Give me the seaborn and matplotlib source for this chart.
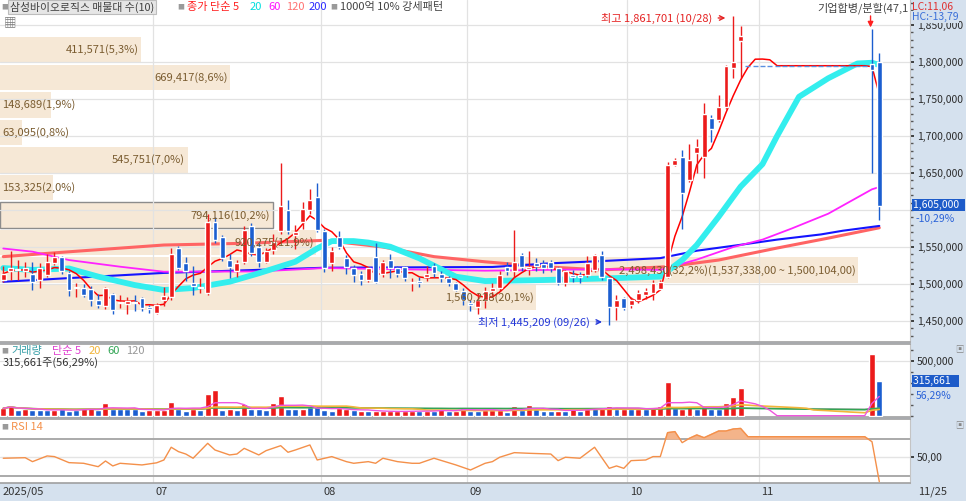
import numpy as np
import pandas as pd
import matplotlib
matplotlib.use("Agg")
import matplotlib.pyplot as plt
from matplotlib.ticker import MultipleLocator, FixedLocator, FuncFormatter
from matplotlib.transforms import blended_transform_factory
import seaborn as sns

sns.set_theme(style="white")
plt.rcParams["font.family"] = ["Noto Sans CJK KR", "DejaVu Sans"]
plt.rcParams["axes.unicode_minus"] = False

# 삼성바이오로직스 일봉 2025/05/29 ~ 2025/11/25 (가격 단위: 천원)
opens = [1505, 1518, 1519, 1518, 1514, 1505, 1512, 1529, 1536, 1515,
         1494, 1494, 1493, 1479, 1470, 1487, 1474, 1473, 1476, 1481,
         1469, 1461, 1478, 1483, 1548, 1528, 1502, 1494, 1488, 1584,
         1563, 1532, 1517, 1530, 1578, 1550, 1530, 1546, 1571, 1600,
         1566, 1584, 1600, 1618, 1571, 1528, 1564, 1535, 1521, 1514,
         1505, 1537, 1514, 1532, 1521, 1523, 1501, 1504, 1509, 1524,
         1514, 1508, 1501, 1491, 1474, 1469, 1478, 1491, 1494, 1523,
         1517, 1539, 1520, 1528, 1527, 1530, 1521, 1501, 1512, 1512,
         1512, 1519, 1539, 1508, 1469, 1481, 1472, 1479, 1485, 1488,
         1493, 1510, 1661, 1671, 1641, 1677, 1671, 1725, 1722, 1739,
         1792, 1828,
         1795, 1795, 1795, 1795, 1795, 1795, 1795, 1795, 1795, 1795,
         1795, 1795, 1795, 1795, 1795, 1795, 1795,
         1797, 1800]
highs = [1525, 1544, 1532, 1530, 1530, 1528, 1541, 1543, 1538, 1518,
         1502, 1500, 1497, 1486, 1496, 1488, 1485, 1483, 1485, 1482,
         1472, 1475, 1496, 1548, 1552, 1536, 1525, 1508, 1594, 1591,
         1566, 1540, 1532, 1579, 1583, 1555, 1548, 1568, 1663, 1613,
         1580, 1611, 1629, 1637, 1574, 1550, 1571, 1539, 1526, 1518,
         1523, 1555, 1532, 1540, 1524, 1524, 1508, 1510, 1525, 1528,
         1517, 1511, 1503, 1495, 1479, 1488, 1496, 1501, 1517, 1530,
         1573, 1542, 1544, 1535, 1533, 1532, 1523, 1519, 1519, 1516,
         1538, 1541, 1544, 1510, 1485, 1483, 1482, 1492, 1494, 1506,
         1505, 1665, 1670, 1681, 1689, 1696, 1744, 1728, 1755, 1796,
         1861.701, 1849,
         1795, 1795, 1795, 1795, 1795, 1795, 1795, 1795, 1795, 1795,
         1795, 1795, 1795, 1795, 1795, 1795, 1795,
         1845, 1812]
lows = [1503, 1506, 1505, 1510, 1492, 1494, 1509, 1526, 1513, 1484,
        1483, 1482, 1470, 1468, 1466, 1459, 1467, 1459, 1463, 1464,
        1461, 1459, 1470, 1478, 1519, 1504, 1485, 1488, 1485, 1556,
        1531, 1508, 1509, 1527, 1538, 1523, 1528, 1540, 1568, 1567,
        1547, 1575, 1595, 1570, 1516, 1517, 1547, 1513, 1503, 1499,
        1503, 1501, 1510, 1508, 1509, 1504, 1490, 1496, 1504, 1510,
        1503, 1497, 1490, 1472, 1464, 1460, 1467, 1483, 1491, 1512,
        1510, 1517, 1512, 1518, 1515, 1516, 1499, 1497, 1503, 1501,
        1510, 1516, 1505, 1445.209, 1451, 1465, 1467, 1475, 1480, 1478,
        1492, 1508, 1659, 1575, 1638, 1650, 1643, 1692, 1719, 1736,
        1778, 1778,
        1795, 1795, 1795, 1795, 1795, 1795, 1795, 1795, 1795, 1795,
        1795, 1795, 1795, 1795, 1795, 1795, 1795,
        1650, 1586]
closes = [1514, 1522, 1520, 1521, 1503, 1521, 1530, 1536, 1517, 1492,
          1495, 1485, 1478, 1472, 1494, 1465, 1476, 1477, 1474, 1467,
          1466, 1472, 1484, 1541, 1521, 1517, 1497, 1496, 1584, 1560,
          1535, 1523, 1528, 1573, 1542, 1530, 1544, 1557, 1605, 1571,
          1570, 1601, 1614, 1573, 1521, 1544, 1550, 1523, 1512, 1505,
          1521, 1503, 1530, 1521, 1514, 1508, 1503, 1502, 1514, 1515,
          1508, 1501, 1492, 1478, 1472, 1478, 1490, 1494, 1512, 1517,
          1530, 1523, 1523, 1524, 1522, 1521, 1501, 1517, 1510, 1510,
          1528, 1539, 1510, 1469, 1478, 1467, 1478, 1488, 1490, 1501,
          1503, 1661, 1668, 1623, 1668, 1685, 1730, 1710, 1739, 1794,
          1800, 1835,
          1795, 1795, 1795, 1795, 1795, 1795, 1795, 1795, 1795, 1795,
          1795, 1795, 1795, 1795, 1795, 1795, 1795,
          1789, 1605]

# 거래량 (주) 와 막대 색 (r: 빨강, b: 파랑, -: 거래정지)
volumes = [67000, 91000, 52000, 58000, 52000, 52000, 52000, 52000, 58000, 45000,
           52000, 67000, 67000, 52000, 112000, 61000, 61000, 61000, 61000, 45000,
           52000, 52000, 52000, 127000, 61000, 45000, 61000, 52000, 194000, 233000,
           52000, 61000, 52000, 103000, 61000, 61000, 52000, 118000, 182000, 61000,
           61000, 61000, 82000, 82000, 52000, 45000, 67000, 58000, 52000, 45000,
           39000, 39000, 39000, 39000, 39000, 39000, 45000, 45000, 39000, 45000,
           58000, 45000, 45000, 82000, 45000, 45000, 52000, 52000, 52000, 36000,
           88000, 52000, 97000, 58000, 45000, 45000, 45000, 45000, 67000, 45000,
           67000, 67000, 67000, 91000, 64000, 64000, 64000, 64000, 64000, 67000,
           91000, 303000, 67000, 64000, 91000, 64000, 91000, 64000, 64000, 118000,
           173000, 249000,
           0, 0, 0, 0, 0, 0, 0, 0, 0, 0, 0, 0, 0, 0, 0, 0, 0,
           560777, 315661]
vol_colors = ("rrbrbbbrbb" "brrbrbbbbb" "rrrrbbrbrr" "brbrbbbrrb" "brbbbbrrbr"
              "brrrrrrbrb" "rbrrbbrrrb" "rbrbbbrbrb" "rbrrbrbrbr" "rrbrrbrbbr"
              "rr" "-----------------" "rb")

# 이동평균
ma20_idx = [0, 4, 9, 13, 18, 22, 26, 31, 35, 40, 43, 45, 48, 50, 53, 57, 62, 66,
            74, 83, 90, 93, 95, 98, 101, 104, 106, 109, 113, 117, 119, 120]
ma20_val = [1521600, 1519000, 1521000, 1510000, 1498600, 1491900, 1494600, 1503100,
            1514500, 1530100, 1548000, 1558000, 1558000, 1556000, 1550400, 1534700,
            1509900, 1504000, 1505400, 1507700, 1510000, 1532400, 1552700, 1591000,
            1631500, 1662000, 1700000, 1753000, 1778000, 1798000, 1799000, 1796000]
ma60_idx = [0, 4, 9, 16, 22, 35, 44, 66, 74, 82, 90, 95, 100, 104, 108, 113, 119, 120]
ma60_val = [1548000, 1543700, 1532400, 1523400, 1516600, 1517000, 1521600, 1518000,
            1519000, 1520000, 1519000, 1533000, 1550000, 1560000, 1575000, 1595000,
            1628000, 1631000]
ma120_idx = [0, 11, 22, 33, 44, 52, 59, 66, 74, 82, 91, 98, 106, 113, 120]
ma120_val = [1537000, 1545000, 1552700, 1555000, 1559000, 1550000, 1537000, 1530000,
             1523400, 1519000, 1523400, 1532400, 1548600, 1562000, 1576000]
ma200_idx = [0, 9, 22, 44, 67, 75, 82, 90, 95, 101, 106, 112, 115, 120]
ma200_val = [1503000, 1508000, 1515000, 1522000, 1523000, 1528000, 1531000, 1535000,
             1545000, 1553000, 1560000, 1567000, 1572000, 1578500]

# RSI 14
rsi_idx = [0, 3, 4, 6, 7, 9, 11, 13, 14, 15, 16, 19, 21, 22, 23, 24, 25, 26, 28, 29,
           31, 32, 33, 35, 36, 38, 39, 40, 42, 43, 45, 47, 48, 50, 51, 52, 54, 56, 57, 59,
           62, 64, 66, 67, 68, 70, 72, 75, 76, 77, 79, 81, 83, 84, 85, 86, 88, 89, 90, 91,
           92, 93, 94, 95, 96, 98, 99, 100, 101, 102, 118, 119, 120]
rsi_val = [49, 49.6, 45.3, 51.5, 50.8, 44.2, 43.5, 39.8, 46, 40.6, 43.5, 41.7, 44, 47.1,
           61, 56.2, 53.6, 49, 65.3, 58, 52.6, 53.6, 59.8, 52.6, 57.3, 62.7, 55.5, 58,
           63.5, 47.1, 50.8, 45.3, 43.5, 45.3, 43.5, 49, 45.3, 43.5, 43.5, 49, 41.7, 36.2,
           43.5, 45.3, 50.1, 55.1, 54.4, 53.6, 46.4, 50.1, 49, 61, 38, 40.6, 38, 46.4,
           47.1, 50.8, 50.8, 76.9, 78, 66, 70.8, 74.4, 71.4, 78.7, 78.7, 80.9, 81.5,
           72.5, 72.5, 67, 23.5]

# 매물대 (아래 구간부터)
prof_edges = [1462870, 1500104, 1537338, 1574572, 1611806, 1649040,
              1686274, 1723508, 1760742, 1797976, 1835210]
prof_vol = [1560228, 2498430, 920275, 794116, 153325, 545751, 63095, 148689, 669417, 411571]

# 월 첫 거래일 인덱스
month_first = [21, 44, 64, 86, 104]
month_labels = ["07", "08", "09", "10", "11"]

RED = "#ec1b1b"
BLUE = "#1b5ed0"
STRIP = "#d5e1ee"
GRID = "#e2e2e2"
BROWN = "#7a5c30"

o = np.array(opens) * 1000
h = np.array(highs) * 1000
l = np.array(lows) * 1000
c = np.array(closes) * 1000
v = np.array(volumes)
x = np.arange(len(c))
n = len(c)

W, H = 966, 501
PX = 7.3          # 봉 간격(px)
X0 = -0.45


def box(top, bottom, left=0, right=910):
    return [left / W, 1 - bottom / H, (right - left) / W, (bottom - top) / H]


def ftext(px, py, s, **kw):
    kw.setdefault("fontsize", 8)
    kw.setdefault("ha", "left")
    fig.text(px / W, 1 - py / H, s, va="center", **kw)


fig = plt.figure(figsize=(9.66, 5.01), dpi=100, facecolor=STRIP)
ax = fig.add_axes(box(0, 342))
axv = fig.add_axes(box(344, 417), sharex=ax)
axr = fig.add_axes(box(419, 483), sharex=ax)

for a in (ax, axv, axr):
    a.set_facecolor("white")
    a.spines["left"].set_visible(False)
    a.spines["right"].set_color("#c4c4c4")
    a.spines["right"].set_linewidth(0.8)
    a.spines["top"].set_color("#a0a0a0")
    a.spines["bottom"].set_color("#a0a0a0")
    a.spines["top"].set_linewidth(1.2)
    a.spines["bottom"].set_linewidth(1.2)
    a.yaxis.tick_right()
    a.tick_params(axis="y", which="major", length=3, pad=2, labelsize=7.5,
                  colors="#2b2b2b", right=True, left=False)
    a.tick_params(axis="y", which="minor", length=2, color="#555", right=True, left=False)
    a.tick_params(axis="x", bottom=False, labelbottom=False)
    for m in month_first:
        a.axvline(m - 0.5, color=GRID, lw=0.9, zorder=1)
ax.spines["top"].set_visible(False)

ax.set_xlim(X0, (910 - 3.3) / PX)

# ---------------- 가격 ----------------
ax.set_ylim(1883800 - 342 * 1351.35, 1883800)
grid_levels = list(range(1450000, 1900000, 50000))
for yv in grid_levels:
    ax.axhline(yv, color=GRID, lw=0.9, zorder=1)

# 매물대
edges = np.array(prof_edges)
pv = np.array(prof_vol)
centers = (edges[:-1] + edges[1:]) / 2
scale = 117.6 / pv.max()
widths = pv * scale
cur_band = np.searchsorted(edges, c[-1]) - 1
ecs = ["#8c8c8c" if i == cur_band else "none" for i in range(len(pv))]
ax.barh(centers, widths, height=np.diff(edges) - 2800, left=X0, color="#f6e8d6",
        edgecolor=ecs, linewidth=1.0, zorder=0.5)
total = pv.sum()
for i in range(len(pv)):
    pct = f"{pv[i] / total * 100:.1f}".replace(".", ",")
    lab = f"{pv[i]:,}({pct}%)"
    if i == pv.argmax():
        lab += f"({edges[i + 1]:,},00 ~ {edges[i]:,},00)"
    if widths[i] * PX > 100:
        ax.text(X0 + widths[i] - 0.35, centers[i], lab, ha="right", va="center",
                fontsize=8, color=BROWN, zorder=10)
    else:
        ax.text(X0 + 0.35, centers[i], lab, ha="left", va="center",
                fontsize=8, color=BROWN, zorder=10)

# 이동평균선
sns.lineplot(x=ma120_idx, y=ma120_val, ax=ax, color="#ff6464", linewidth=2.2, zorder=2)
sns.lineplot(x=ma200_idx, y=ma200_val, ax=ax, color="#1414ff", linewidth=1.5, zorder=2.1)
sns.lineplot(x=ma60_idx, y=ma60_val, ax=ax, color="#ff22ff", linewidth=1.3, zorder=2.2)
sns.lineplot(x=ma20_idx, y=ma20_val, ax=ax, color="#33eeee", linewidth=4.2, zorder=2.3)
ma5 = pd.Series(c).rolling(5, min_periods=1).mean()
sns.lineplot(x=x, y=ma5.values, ax=ax, color="#ff0000", linewidth=1.1, zorder=2.6)

# 캔들
traded = v > 0
up = c >= o
col = np.where(up, RED, BLUE)
ax.vlines(x[traded], l[traded], h[traded], colors=col[traded], lw=1, zorder=3)
body_lo = np.minimum(o, c)
body_h = np.maximum(np.abs(c - o), 1400)
ax.bar(x[traded], body_h[traded], bottom=body_lo[traded], width=0.68,
       color=col[traded], zorder=3.1)
ax.hlines(c[~traded], x[~traded] - 0.34, x[~traded] + 0.34, colors="#5b8fe0",
          lw=1, zorder=3)

# 최고 / 최저
hi_i, lo_i = int(np.argmax(h)), int(np.argmin(l))
ax.annotate(f"최고 {h[hi_i]:,.0f} (10/28)", xy=(hi_i - 0.7, 1859500),
            xytext=(hi_i - 2.9, 1859500), ha="right", va="center", fontsize=8,
            color="#e52222", zorder=11,
            arrowprops=dict(arrowstyle="->", color="#e52222", lw=1))
ax.annotate(f"최저 {l[lo_i]:,.0f} (09/26)", xy=(lo_i - 0.6, 1448700),
            xytext=(lo_i - 2.6, 1448700), ha="right", va="center", fontsize=8,
            color="#2236d8", zorder=11,
            arrowprops=dict(arrowstyle="->", color="#2236d8", lw=1))

# 이벤트 표시
ax.annotate("", xy=(n - 2.2, 1843000), xytext=(n - 2.2, 1866000),
            arrowprops=dict(arrowstyle="-|>", color="#ff2020", lw=1, mutation_scale=8),
            zorder=11)
ftext(909, 8, "기업합병/분할(47,1", color="#444444", ha="right")

# 현재가(1,605,000) 라벨이 가리는 눈금은 표시하지 않음
tick_levels = [t for t in grid_levels if abs(t - c[-1]) > 10000]
ax.yaxis.set_major_locator(FixedLocator(tick_levels))
ax.yaxis.set_minor_locator(MultipleLocator(10000))
ax.yaxis.set_major_formatter(FuncFormatter(lambda val, p: f"{val:,.0f}"))
ax.set_ylabel("")

trans_p = blended_transform_factory(ax.transAxes, ax.transData)
ax.text(1.003, c[-1] + 1500, f"{c[-1]:,.0f}  ", transform=trans_p, ha="left",
        va="center", fontsize=7.5, color="white", zorder=12, clip_on=False,
        bbox=dict(boxstyle="square,pad=0.1", fc="#1d5bc9", ec="none"))
chg = (c[-1] - c[-2]) / c[-2] * 100
ax.text(1.006, c[-1] - 17500, f"{chg:.2f}%".replace(".", ","), transform=trans_p,
        ha="left", va="center", fontsize=7.5, color="#2a62d8", clip_on=False, zorder=12)

# ---------------- 거래량 ----------------
axv.set_ylim(-11800, 651750)
axv.axhline(500000, color=GRID, lw=0.9, zorder=1)
vcol = np.array([RED if k == "r" else BLUE for k in vol_colors])
axv.bar(x[traded], v[traded], width=0.82, color=vcol[traded], zorder=3)
vs = pd.Series(v.astype(float))
sns.lineplot(x=x, y=vs.rolling(120, min_periods=1).mean().values, ax=axv,
             color="#b8b8b8", linewidth=1, zorder=4)
sns.lineplot(x=x, y=vs.rolling(60, min_periods=1).mean().values, ax=axv,
             color="#32a555", linewidth=1.2, zorder=4)
sns.lineplot(x=x, y=vs.rolling(20, min_periods=1).mean().values, ax=axv,
             color="#f2b53a", linewidth=1.2, zorder=4)
sns.lineplot(x=x, y=vs.rolling(5, min_periods=1).mean().values, ax=axv,
             color="#ee55dd", linewidth=1, zorder=4)
axv.yaxis.set_major_locator(FixedLocator([500000]))
axv.yaxis.set_minor_locator(MultipleLocator(100000))
axv.yaxis.set_major_formatter(FuncFormatter(lambda val, p: f"{val:,.0f}"))
axv.set_ylabel("")
trans_v = blended_transform_factory(axv.transAxes, axv.transData)
axv.text(1.003, v[-1], f"{v[-1]:,}   ", transform=trans_v, ha="left", va="center",
         fontsize=7.5, color="white", clip_on=False, zorder=12,
         bbox=dict(boxstyle="square,pad=0.1", fc="#1d5bc9", ec="none"))
vratio = f"{v[-1] / v[-2] * 100:.2f}".replace(".", ",")
axv.text(1.006, v[-1] - 135000, f"{vratio}%", transform=trans_v, ha="left",
         va="center", fontsize=7.5, color="#2a62d8", clip_on=False, zorder=12)

# ---------------- RSI ----------------
axr.set_ylim(22.0, 91.8)
axr.axhline(50, color="#e4e4e4", lw=1, zorder=1)
axr.axhline(70, color="#a4a4a4", lw=1.3, zorder=1)
axr.axhline(30, color="#a4a4a4", lw=1.3, zorder=1)
rx = np.array(rsi_idx, dtype=float)
ry = np.array(rsi_val)
axr.fill_between(rx, ry, 70, where=ry >= 70, interpolate=True, color="#f4b48a", zorder=2)
sns.lineplot(x=rx, y=ry, ax=axr, color="#f4904a", linewidth=1, zorder=3)
axr.yaxis.set_major_locator(FixedLocator([50]))
axr.yaxis.set_major_formatter(FuncFormatter(lambda val, p: "50,00"))
axr.set_ylabel("")

# x축 라벨
xt = [X0] + [m - 0.5 for m in month_first]
xl = ["2025/05"] + month_labels
trans_x = blended_transform_factory(axr.transData, axr.transAxes)
for pos, lab in zip(xt, xl):
    axr.text(pos + 0.3, -0.14, lab, transform=trans_x, ha="left", va="center",
             fontsize=8, color="#333333", clip_on=False)
ftext(918, 492, "11/25", color="#333333")

# 범례 (상단)
ftext(1, 7, "■", fontsize=5, color="#9a9a9a")
ftext(10, 7, "삼성바이오로직스 매물대 수(10)", color="#404040", fontsize=7.8,
      bbox=dict(boxstyle="square,pad=0.15", fc="#e6e6e6", ec="#bdbdbd", lw=0.8))
ftext(177, 7, "■", fontsize=5, color="#9a9a9a")
ftext(187, 7, "종가 단순 5", color="#ff2020")
ftext(250, 7, "20", color="#00dede")
ftext(268, 7, "60", color="#ff10ff")
ftext(286, 7, "120", color="#ff7272")
ftext(309, 7, "200", color="#2a2aff")
ftext(330, 7, "■", fontsize=5, color="#9a9a9a")
ftext(340, 7, "1000억 10% 강세패턴", color="#444444")
ftext(4, 23, "▦", fontsize=9, color="#777777")
ftext(912, 7, "LC:11,06", color="#e03030", fontsize=7.5)
ftext(912, 17, "HC:-13,79", color="#3a6fd8", fontsize=7.5,
      bbox=dict(boxstyle="square,pad=0.05", fc=STRIP, ec="none"))

# 범례 (거래량 / RSI)
ftext(1, 351, "■", fontsize=5, color="#9a9a9a")
ftext(11, 351, "거래량", color="#3aa0a8")
ftext(52, 351, "단순 5", color="#e040d0")
ftext(89, 351, "20", color="#f2b53a")
ftext(107, 351, "60", color="#32a555")
ftext(126, 351, "120", color="#999999")
ftext(3, 363, f"{v[-1]:,}주({vratio}%)", color="#333333")
ftext(1, 427, "■", fontsize=5, color="#9a9a9a")
ftext(11, 427, "RSI 14", color="#f4904a")
ftext(955, 349, "▣", fontsize=6, color="#888888")
ftext(955, 425, "▣", fontsize=6, color="#888888")

fig.savefig("out.png", dpi=100, facecolor=STRIP)
